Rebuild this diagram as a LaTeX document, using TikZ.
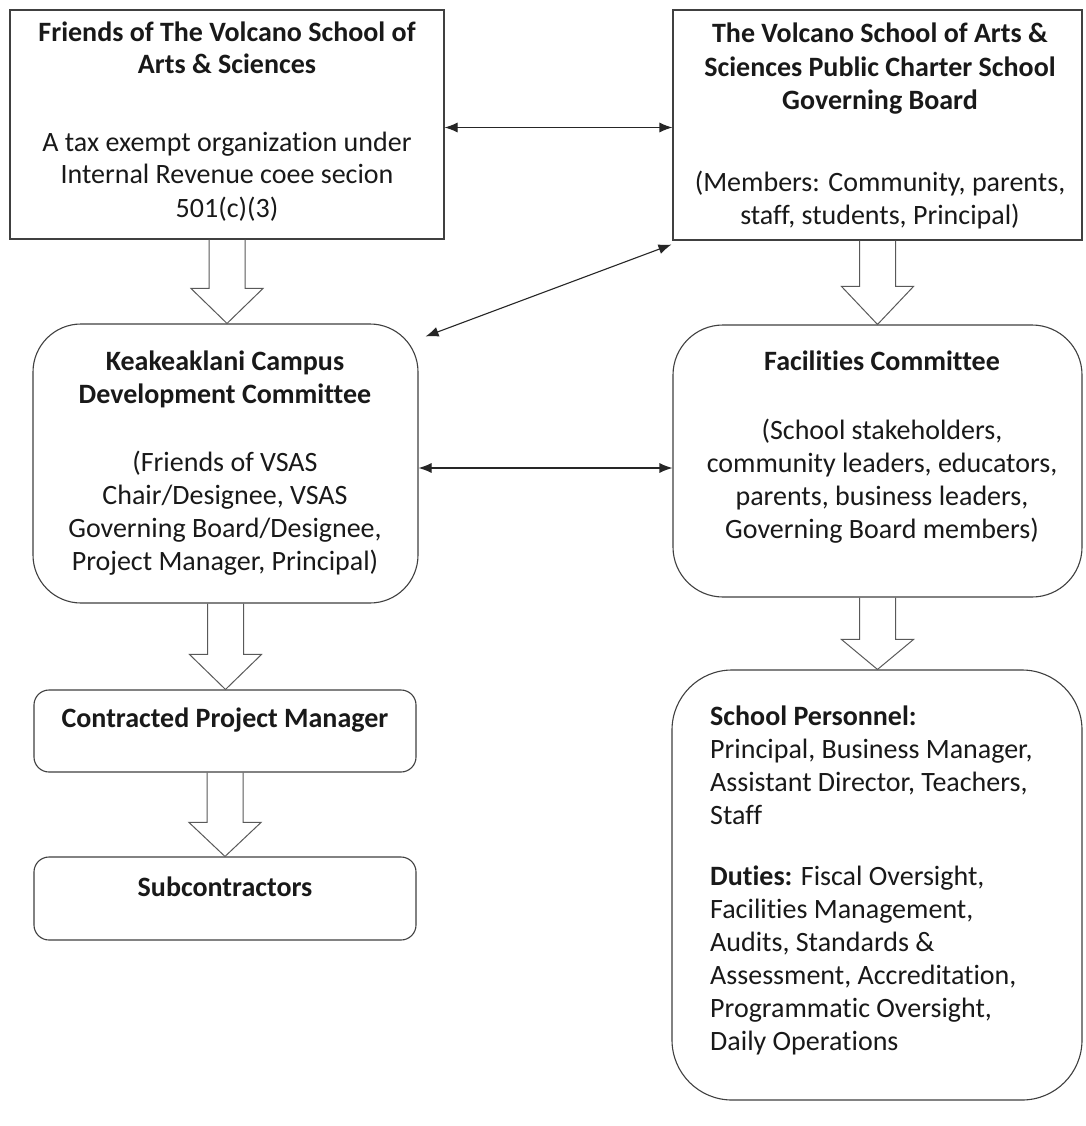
\documentclass[tikz,border=0pt]{standalone}
\usepackage{fontspec}
\setmainfont{Carlito}[Ligatures=NoCommon]
\usetikzlibrary{calc,arrows.meta}
\newcommand\Hst{\rule{0pt}{21pt}}
\newcommand\Dst{\rule[-7pt]{0pt}{7pt}}
\newcommand\blockarr[3]{%
  \draw[barrow] ($(#1.south)+(-18,0)$) -- ($(#1.south |- #2.north)+(-18,-#3)$)
    -- ($(#1.south |- #2.north)+(-36,-#3)$) -- (#1.south |- #2.north)
    -- ($(#1.south |- #2.north)+(36,-#3)$) -- ($(#1.south |- #2.north)+(18,-#3)$)
    -- ($(#1.south)+(18,0)$);}
\begin{document}
\begin{tikzpicture}[x=1pt,y=-1pt,
  sqbox/.style={draw=black!75, line width=1.1pt, rectangle, inner sep=0pt},
  rbox/.style={sqbox, rounded corners=#1},
  txt/.style={inner sep=0pt, align=center, font=\fontsize{28}{33}\selectfont, text=black!90},
  conn/.style={draw=black!85, line width=1.1pt, {Latex[length=13pt,width=10pt]}-{Latex[length=13pt,width=10pt]}},
  barrow/.style={draw=black!65, line width=1pt, line join=miter}
]
\path[fill=white,use as bounding box] (0,0) rectangle (1085,1126);

% boxes
\node[sqbox, minimum width=434, minimum height=229] (A) at (227,124.5) {};
\node[sqbox, minimum width=409, minimum height=230] (B) at (877.5,125) {};
\node[rbox=48pt, minimum width=385, minimum height=279] (C) at (225.5,463.5) {};
\node[rbox=50pt, minimum width=409, minimum height=272] (D) at (877.5,461) {};
\node[rbox=15pt, minimum width=382, minimum height=82] (E) at (225,731) {};
\node[rbox=15pt, minimum width=382, minimum height=83] (F) at (225,898.5) {};
\node[rbox=60pt, minimum width=410, minimum height=430] (G) at (877,885) {};

% texts
\node[txt] (At) at (227,122) {\Hst\textbf{Friends of The Volcano School of}\\ \textbf{Arts \& Sciences}\\[44pt] A tax exempt organization under\\ Internal Revenue coee secion\\ 501(c)(3)\Dst};
\node[txt] (Bt) at (880,126.5) {\Hst\textbf{The Volcano School of Arts \&}\\ \textbf{Sciences Public Charter School}\\ \textbf{Governing Board}\\[49pt] (Members: Community, parents,\\ staff, students, Principal)\Dst};
\node[txt] (Ct) at (225,463) {\Hst\textbf{Keakeaklani Campus}\\ \textbf{Development Committee}\\[35pt] (Friends of VSAS\\ Chair/Designee, VSAS\\ Governing Board/Designee,\\ Project Manager, Principal)\Dst};
\node[txt] (Dt) at (882,447) {\Hst\textbf{Facilities Committee}\\[36pt] (School stakeholders,\\ community leaders, educators,\\ parents, business leaders,\\ Governing Board members)\Dst};
\node[txt] (Et) at (225,720) {\Hst\textbf{Contracted Project Manager}\Dst};
\node[txt] (Ft) at (225,889) {\Hst\textbf{Subcontractors}\Dst};
\node[txt, align=left, anchor=west] (Gt) at (710,880.5) {\Hst\textbf{School Personnel:}\\ Principal, Business Manager,\\ Assistant Director, Teachers,\\ Staff\\[28pt] \textbf{Duties:} Fiscal Oversight,\\ Facilities Management,\\ Audits, Standards \&\\ Assessment, Accreditation,\\ Programmatic Oversight,\\ Daily Operations\Dst};

% block arrows
\blockarr{A}{C}{35}
\blockarr{B}{D}{38}
\blockarr{C}{E}{35}
\blockarr{E}{F}{34}
\blockarr{D}{G}{30}

% double-headed connectors
\draw[conn] ($(A.east)+(0,3)$) -- ($(A.east -| B.west)+(0,3)$);
\draw[conn] ($(C.north east)+(7,13)$) -- ($(B.south west)+(-1,4)$);
\draw[conn] ($(C.east)+(0,4.5)$) -- ($(C.east -| D.west)+(0,4.5)$);
\end{tikzpicture}
\end{document}
